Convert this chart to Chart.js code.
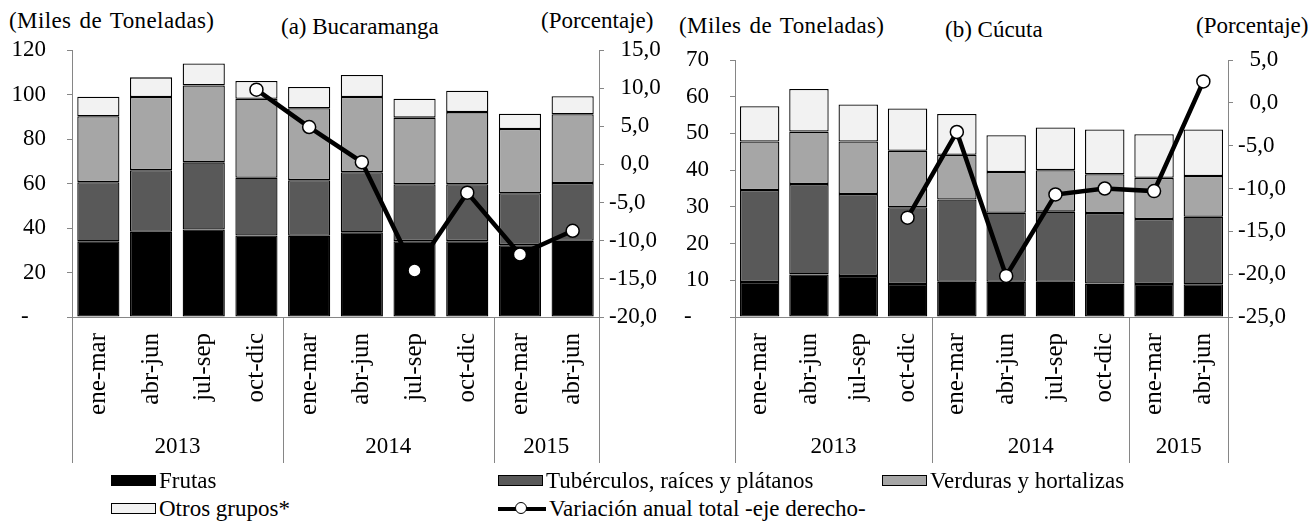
<!DOCTYPE html>
<html lang="es">
<head>
<meta charset="utf-8">
<script src="https://cdn.jsdelivr.net/npm/chart.js@4.4.1/dist/chart.umd.min.js"></script>
<style>
    body {
        margin: 0;
        width: 1312px;
        height: 529px;
        position: relative;
        overflow: hidden;
        background: #fff;
        font-family: "Liberation Serif", "Times New Roman", serif;
        font-size: 23px;
        color: #000;
    }
    .texto { position: absolute; white-space: nowrap; line-height: 1; }
    .miles { letter-spacing: 0.4px; word-spacing: 2px; }
    canvas { position: absolute; top: 0; }
    #graficaBuc { left: 0; }
    #graficaCuc { left: 660px; }
    .ley { position: absolute; display: flex; align-items: center; white-space: nowrap; line-height: 1; }
    .caja { width: 45px; height: 11px; border: 1px solid #000; box-sizing: border-box; margin-right: 3px; }
    .linea { width: 48px; height: 4px; background: #000; position: relative; margin-right: 3px; }
    .linea::after {
        content: ""; position: absolute; left: 17px; top: -5px;
        width: 12px; height: 12px; border: 1.5px solid #000; border-radius: 50%;
        background: #fff; box-sizing: border-box;
    }
</style>
</head>
<body>

<!-- Titulos -->
<div class="texto miles" style="left:9px; top:9px;">(Miles de Toneladas)</div>
<div class="texto" style="left:281px; top:15px;">(a) Bucaramanga</div>
<div class="texto" style="left:541px; top:9px;">(Porcentaje)</div>
<div class="texto miles" style="left:679px; top:14px;">(Miles de Toneladas)</div>
<div class="texto" style="left:945px; top:18px;">(b) Cúcuta</div>
<div class="texto" style="left:1196px; top:14px;">(Porcentaje)</div>

<canvas id="graficaBuc" width="660" height="470"></canvas>
<canvas id="graficaCuc" width="652" height="470"></canvas>

<!-- Leyenda -->
<div class="ley" style="left:111px; top:469px;"><div class="caja" style="background:#000"></div>Frutas</div>
<div class="ley" style="left:498px; top:469px;"><div class="caja" style="background:#595959"></div>Tubérculos, raíces y plátanos</div>
<div class="ley" style="left:882px; top:469px;"><div class="caja" style="background:#a6a6a6"></div>Verduras y hortalizas</div>
<div class="ley" style="left:111px; top:497px;"><div class="caja" style="background:#f2f2f2"></div>Otros grupos*</div>
<div class="ley" style="left:498px; top:497px;"><div class="linea"></div>Variación anual total -eje derecho-</div>

<script>
/* =========================================================
    DATOS
========================================================= */

const categorias = ["ene-mar", "abr-jun", "jul-sep", "oct-dic",
                    "ene-mar", "abr-jun", "jul-sep", "oct-dic",
                    "ene-mar", "abr-jun"];
const anios = ["2013", "2014", "2015"];
const trimestresPorAnio = [4, 4, 2];

// Bucaramanga (miles de toneladas)
const bucFrutas     = [34.0, 38.3, 39.3, 36.6, 36.5, 38.1, 34.1, 34.1, 32.3, 34.3];
const bucTuberculos = [26.6, 27.7, 30.2, 26.0, 25.0, 27.0, 25.6, 25.6, 23.3, 25.9];
const bucVerduras   = [29.6, 32.9, 34.6, 35.5, 32.3, 33.8, 29.9, 32.4, 28.9, 30.9];
const bucOtros      = [8.8, 8.8, 9.8, 8.0, 9.6, 9.9, 8.5, 9.6, 6.9, 8.1];
const bucVariacion  = [null, null, null, 9.8, 4.9, 0.3, -13.9, -3.7, -11.8, -8.7];

// Cúcuta (miles de toneladas)
const cucFrutas     = [9.5, 11.6, 11.2, 9.0, 9.6, 9.6, 9.6, 9.1, 9.0, 8.9];
const cucTuberculos = [25.1, 24.6, 22.3, 20.9, 22.4, 18.8, 19.1, 19.2, 17.7, 18.4];
const cucVerduras   = [13.2, 14.3, 14.3, 15.4, 12.2, 11.1, 11.3, 10.6, 11.2, 11.1];
const cucOtros      = [9.6, 11.6, 10.1, 11.5, 11.1, 10.0, 11.6, 12.2, 11.9, 12.7];
const cucVariacion  = [null, null, null, -13.4, -3.4, -20.2, -10.7, -10.0, -10.3, 2.5];

// Ejes [min, max, paso]
const bucEjeIzq = [0, 120, 20];
const bucEjeDer = [-20, 15, 5];
const cucEjeIzq = [0, 70, 10];
const cucEjeDer = [-25, 5, 5];

/* =========================================================
    ESTILO
========================================================= */

const gris = "#868686";
const familia = "'Liberation Serif', 'Times New Roman', serif";

Chart.defaults.color = "#000";
Chart.defaults.font.family = familia;
Chart.defaults.font.size = 23;

// Años bajo el eje y separadores de grupo
const gruposX = {
    id: "gruposX",
    afterDraw(chart) {
        const { ctx, scales: { x } } = chart;
        const paso = x.width / categorias.length;
        const y0 = chart.chartArea.bottom;
        const y1 = 463;

        ctx.save();
        ctx.strokeStyle = gris;
        ctx.lineWidth = 1;
        ctx.font = `23px ${familia}`;
        ctx.fillStyle = "#000";
        ctx.textAlign = "center";
        ctx.textBaseline = "middle";

        let k = 0;
        const bordes = [0];
        trimestresPorAnio.forEach((n, i) => {
            const xa = x.left + k * paso;
            k += n;
            const xb = x.left + k * paso;
            bordes.push(k);
            ctx.fillText(anios[i], (xa + xb) / 2, 447);
        });

        bordes.forEach(b => {
            const xp = Math.round(x.left + b * paso) + 0.5;
            ctx.beginPath();
            ctx.moveTo(xp, y0);
            ctx.lineTo(xp, y1);
            ctx.stroke();
        });
        ctx.restore();
    }
};

const fmtPct = v => (v >= 0 ? "  " : "") + v.toFixed(1).replace(".", ",");

function crearGrafica(id, s, ejeIzq, ejeDer, geo) {
    const barra = (label, data, color) => ({
        type: "bar",
        label: label,
        data: data,
        backgroundColor: color,
        borderColor: "#000",
        borderWidth: 1.3,
        borderSkipped: false,
        yAxisID: "y",
        order: 1
    });

    return new Chart(document.getElementById(id), {
        data: {
            labels: categorias,
            datasets: [
                {
                    type: "line",
                    label: "Variación anual total -eje derecho-",
                    data: s.variacion,
                    yAxisID: "y1",
                    order: 0,
                    borderColor: "#000",
                    borderWidth: 4.5,
                    tension: 0,
                    pointRadius: 6.5,
                    pointBorderWidth: 1.5,
                    pointBackgroundColor: "#fff",
                    pointBorderColor: "#000"
                },
                barra("Frutas", s.frutas, "#000000"),
                barra("Tubérculos, raíces y plátanos", s.tuberculos, "#595959"),
                barra("Verduras y hortalizas", s.verduras, "#a6a6a6"),
                barra("Otros grupos*", s.otros, "#f2f2f2")
            ]
        },
        options: {
            responsive: false,
            animation: false,
            layout: { padding: { top: geo.arriba, left: 0, right: 0, bottom: 0 } },
            datasets: { bar: { categoryPercentage: 0.8, barPercentage: 1 } },
            plugins: {
                legend: { display: false },
                tooltip: { enabled: false }
            },
            scales: {
                x: {
                    stacked: true,
                    grid: { drawOnChartArea: false, drawTicks: false },
                    border: { color: gris },
                    ticks: {
                        autoSkip: false, minRotation: 90, maxRotation: 90, padding: 16,
                        font: { size: 25 }
                    },
                    afterFit: sc => { sc.height = 470 - 317; }
                },
                y: {
                    stacked: true,
                    position: "left",
                    min: ejeIzq[0],
                    max: ejeIzq[1],
                    ticks: {
                        stepSize: ejeIzq[2],
                        padding: 21,
                        callback: v => v === 0 ? "-   " : v
                    },
                    grid: { drawOnChartArea: false, tickLength: 5, color: gris },
                    border: { color: gris },
                    afterFit: sc => { sc.width = geo.izq; }
                },
                y1: {
                    position: "right",
                    min: ejeDer[0],
                    max: ejeDer[1],
                    ticks: { stepSize: ejeDer[2], padding: 5, callback: fmtPct },
                    grid: { drawOnChartArea: false, tickLength: 5, color: gris },
                    border: { color: gris },
                    afterFit: sc => { sc.width = geo.der; }
                }
            }
        },
        plugins: [gruposX]
    });
}

/* =========================================================
    GRAFICAS
========================================================= */

crearGrafica("graficaBuc",
    { frutas: bucFrutas, tuberculos: bucTuberculos, verduras: bucVerduras, otros: bucOtros, variacion: bucVariacion },
    bucEjeIzq, bucEjeDer,
    { arriba: 50, izq: 72, der: 660 - 599 });

crearGrafica("graficaCuc",
    { frutas: cucFrutas, tuberculos: cucTuberculos, verduras: cucVerduras, otros: cucOtros, variacion: cucVariacion },
    cucEjeIzq, cucEjeDer,
    { arriba: 60, izq: 75, der: 652 - 568 });
</script>
</body>
</html>
